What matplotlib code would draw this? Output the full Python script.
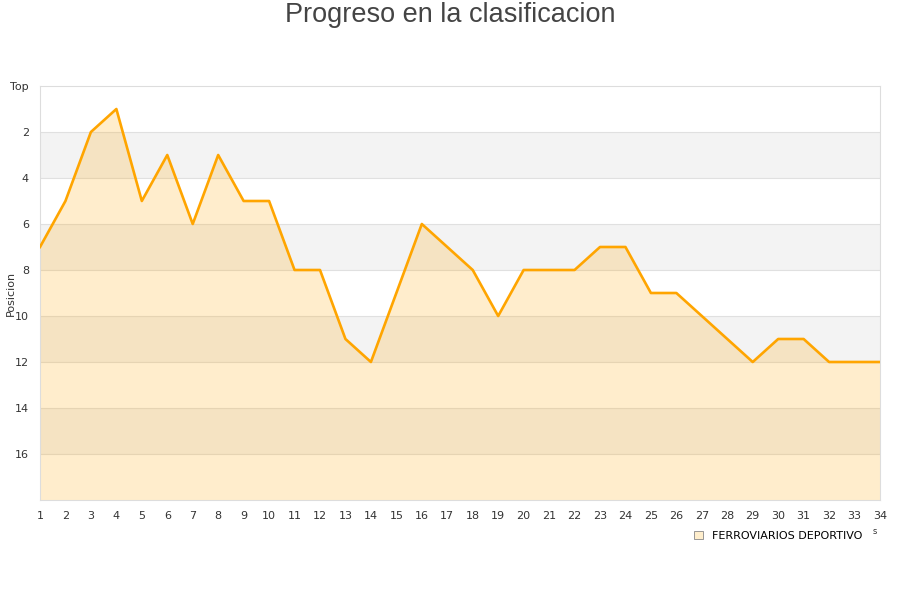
import matplotlib
matplotlib.use("Agg")
import matplotlib.pyplot as plt
from matplotlib.patches import Patch

jornadas = list(range(1, 35))
posicion = [7, 5, 2, 1, 5, 3, 6, 3, 5, 5, 8, 8, 11, 12, 9, 6, 7, 8, 10, 8,
            8, 8, 7, 7, 9, 9, 10, 11, 12, 11, 11, 12, 12, 12]
equipo = "FERROVIARIOS DEPORTIVO"
y_ticks = [0, 2, 4, 6, 8, 10, 12, 14, 16]
y_labels = ["Top", "2", "4", "6", "8", "10", "12", "14", "16"]

plt.rcParams["font.family"] = ["DejaVu Sans"]
fig = plt.figure(figsize=(9, 6), dpi=100)
ax = fig.add_axes([40 / 900, 1 - 500 / 600, 840 / 900, 414 / 600])

# bandas alternas
for y0 in range(2, 18, 4):
    ax.axhspan(y0, y0 + 2, color="#f3f3f3", zorder=0, lw=0)
for y in y_ticks[1:]:
    ax.axhline(y, color="#e0e0e0", lw=0.8, zorder=1)

ax.fill_between(jornadas, posicion, 18, color="#ffa500", alpha=0.2, lw=0, zorder=2)
ax.plot(jornadas, posicion, color="#ffa500", lw=1.9, zorder=3)

ax.set_xlim(1, 34)
ax.set_ylim(18, 0)
ax.set_xticks(jornadas)
ax.set_yticks(y_ticks)
ax.set_yticklabels(y_labels)
ax.tick_params(length=0, labelsize=8, colors="#333333", pad=8)
ax.tick_params(axis="x", pad=8)
for s in ax.spines.values():
    s.set_color("#dddddd")
    s.set_linewidth(0.8)
fig.text(11 / 900, 1 - 293 / 600, "Posicion", fontsize=8, color="#333333",
         rotation=90, ha="center", va="center")

fig.text(0.5, 1 - 15 / 600, "Progreso en la clasificacion", ha="center", va="center",
         fontsize=19.5, color="#444444", family=["Liberation Sans", "DejaVu Sans"])

handle = Patch(facecolor="#ffeecc", edgecolor="#888888", lw=0.6)
fig.legend([handle], [equipo], loc="center left", bbox_to_anchor=(0.76, 0.107),
           frameon=False, fontsize=8, handlelength=0.8, handleheight=0.8,
           handletextpad=0.8)
fig.text(875 / 900, 1 - 532 / 600, "s", fontsize=6, color="#333333", ha="center", va="center")

fig.savefig("out.png", dpi=100)
